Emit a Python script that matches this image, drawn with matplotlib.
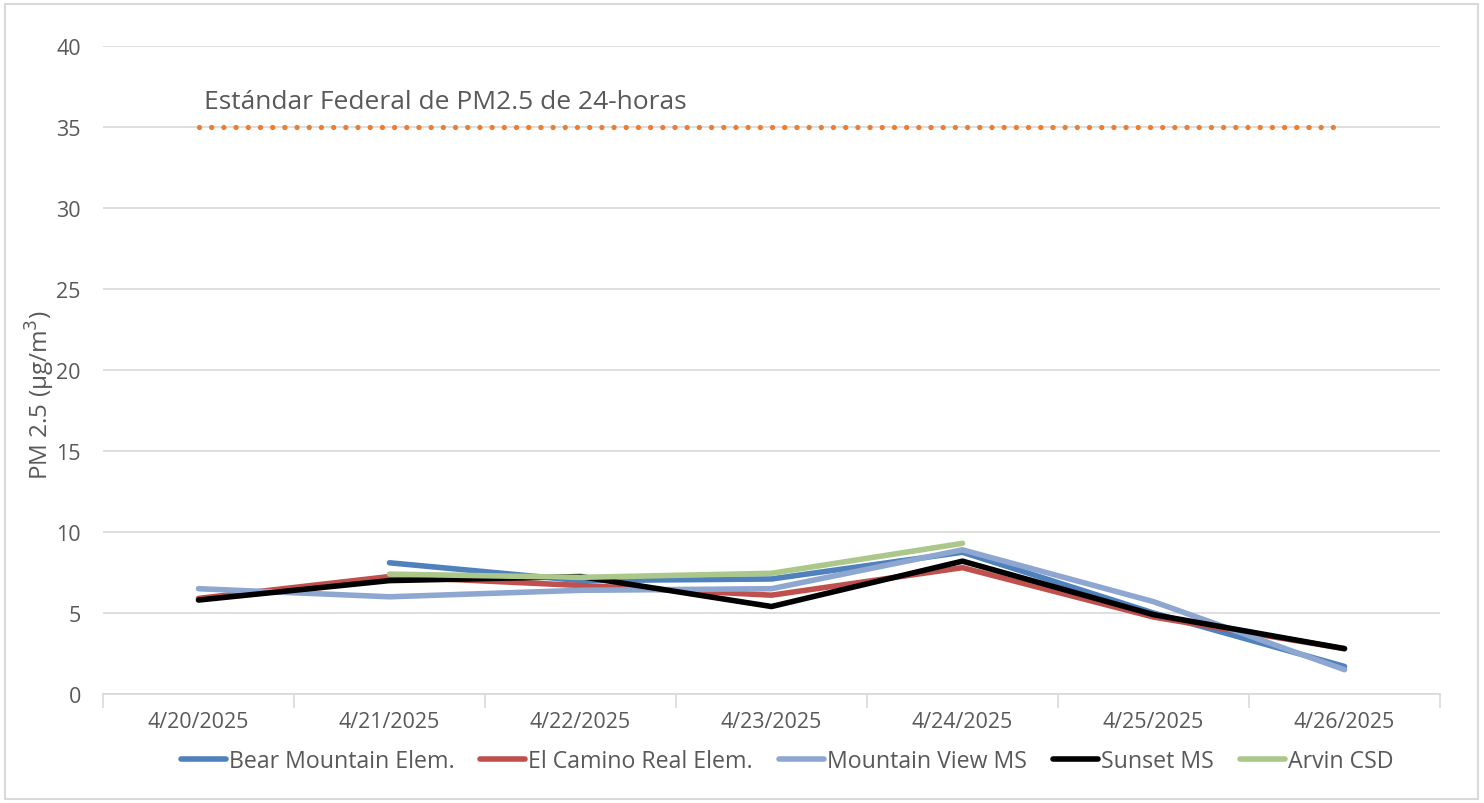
import numpy as np
import matplotlib
matplotlib.use("Agg")
import matplotlib.pyplot as plt
from matplotlib.patches import Rectangle

plt.rcParams['font.family'] = ['Open Sans', 'DejaVu Sans']

dates = ["4/20/2025", "4/21/2025", "4/22/2025", "4/23/2025", "4/24/2025", "4/25/2025", "4/26/2025"]
bear_mountain = [np.nan, 8.1, 7.0, 7.1, 8.75, 5.0, 1.7]
el_camino = [5.9, 7.25, 6.7, 6.1, 7.8, 4.75, 2.8]
mountain_view = [6.5, 6.0, 6.4, 6.5, 8.9, 5.7, 1.5]
sunset = [5.8, 7.0, 7.25, 5.4, 8.2, 4.9, 2.8]
arvin = [np.nan, 7.4, 7.2, 7.45, 9.3, np.nan, np.nan]
standard = [35] * 7

series_names = ["Bear Mountain Elem.", "El Camino Real Elem.", "Mountain View MS", "Sunset MS", "Arvin CSD"]
series_values = [bear_mountain, el_camino, mountain_view, sunset, arvin]
series_colors = ["#4F81BD", "#C0504D", "#8EA7D1", "#000000", "#ABC78A"]

txt = "#595959"
grid = "#D9D9D9"

fig = plt.figure(figsize=(14.84, 8.04), dpi=100)
ax = fig.add_axes([103/1484, 1-695/804, (1440-103)/1484, (695-47)/804])

x = np.arange(len(dates))
ax.plot(x, standard, color="#ED7D31", lw=3.8, linestyle=(0, (0.01, 2.3)),
        dash_capstyle="round", solid_capstyle="round")

for name, vals, c in zip(series_names, series_values, series_colors):
    ax.plot(x, vals, color=c, lw=4.0, label=name, solid_capstyle="round", solid_joinstyle="round")

ax.text(x[0] + 0.03, 36.6, "Estándar Federal de PM2.5 de 24-horas", fontsize=19, color=txt, va="center", ha="left")

ax.set_xlim(-0.5, len(dates) - 0.5)
ax.set_ylim(0, 40)
ax.set_yticks(np.arange(0, 41, 5))
ax.set_xticks(x)
ax.set_xticklabels(dates)
ax.set_xticks(np.arange(-0.5, len(dates), 1), minor=True)
ax.tick_params(axis="x", which="major", length=0, colors=txt, labelsize=15.5, pad=12)
ax.tick_params(axis="x", which="minor", length=10, color=grid, width=1.2)
ax.tick_params(axis="y", length=0, colors=txt, labelsize=15.5, pad=16)
ax.grid(axis="y", color=grid, lw=1.2)
ax.set_axisbelow(True)
for s in ["top", "right", "left"]:
    ax.spines[s].set_visible(False)
ax.spines["bottom"].set_color(grid)
ax.spines["bottom"].set_linewidth(1.2)

ax.set_ylabel("PM 2.5 (µg/m$^3$)", fontsize=17.5, color=txt)
ax.yaxis.set_label_coords((57 - 103) / 1337, (695 - 395) / 648)

leg = fig.legend(loc="center", bbox_to_anchor=(787/1484, 1-762/804), ncol=5, frameon=False,
                 fontsize=16.7, handlelength=1.94, handletextpad=0.13, columnspacing=1.12)
for t in leg.get_texts():
    t.set_color(txt)
for h in leg.get_lines():
    h.set_linewidth(4.0)

fig.patches.append(Rectangle((5/1484, 4/804), 1473/1484, 795/804, transform=fig.transFigure,
                             fill=False, edgecolor=grid, lw=1.5))

fig.savefig("out.png", dpi=100)
